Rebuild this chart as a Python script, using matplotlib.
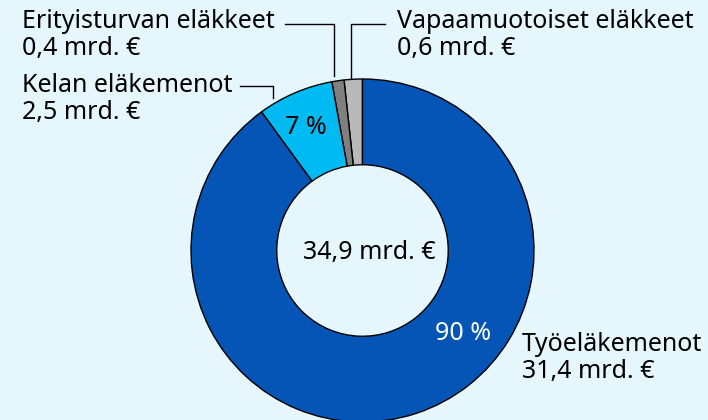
import matplotlib.pyplot as plt

# Eläkemenot 2019 (mrd. €)
labels = ["Vapaamuotoiset eläkkeet", "Erityisturvan eläkkeet", "Kelan eläkemenot", "Työeläkemenot"]
values = [0.6, 0.4, 2.5, 31.4]
value_texts = ["0,6 mrd. €", "0,4 mrd. €", "2,5 mrd. €", "31,4 mrd. €"]
total_text = "34,9 mrd. €"
colors = ["#B9B9B9", "#808080", "#00BAF4", "#0455B5"]

BG = "#E5F6FD"
W, H = 708, 420

plt.rcParams['font.family'] = ['Noto Sans', 'DejaVu Sans']

fig = plt.figure(figsize=(W / 100, H / 100), dpi=100)
fig.patch.set_facecolor(BG)
ax = fig.add_axes([0, 0, 1, 1])


def yp(y):
    # pixel row (from top) -> data y
    return H - y


cx, cy, r = 362.5, yp(250.5), 171.5
ax.pie(values, colors=colors, startangle=90, counterclock=True,
       center=(cx, cy), radius=r, frame=True,
       wedgeprops=dict(width=r * 0.5, edgecolor='black', linewidth=1.0))
ax.set_xlim(0, W)
ax.set_ylim(0, H)
ax.set_aspect('auto')
ax.axis('off')

fs = 18
ls = 1.1
total = sum(values)

# centre total
ax.text(369.5, yp(252), total_text, ha='center', va='center', fontsize=fs, color='black')
# percentages inside ring
ax.text(306, yp(127), f"{round(values[2] / total * 100)} %", ha='center', va='center',
        fontsize=fs, color='black')
ax.text(463, yp(333), f"{round(values[3] / total * 100)} %", ha='center', va='center',
        fontsize=fs, color='white')

# labels with leader lines
ax.text(22, yp(35), f"{labels[1]}\n{value_texts[1]}", ha='left', va='center',
        fontsize=fs, linespacing=ls)
ax.plot([285, 334, 334], [yp(24), yp(24), yp(76)], color='black', lw=1)

ax.text(397, yp(35), f"{labels[0]}\n{value_texts[0]}", ha='left', va='center',
        fontsize=fs, linespacing=ls)
ax.plot([385, 351, 351], [yp(24), yp(24), yp(78)], color='black', lw=1)

ax.text(22, yp(99), f"{labels[2]}\n{value_texts[2]}", ha='left', va='center',
        fontsize=fs, linespacing=ls)
ax.plot([240, 273, 273], [yp(86), yp(86), yp(98)], color='black', lw=1)

ax.text(522, yp(358), f"{labels[3]}\n{value_texts[3]}", ha='left', va='center',
        fontsize=fs, linespacing=ls)

fig.savefig('out.png', dpi=100, facecolor=BG)
